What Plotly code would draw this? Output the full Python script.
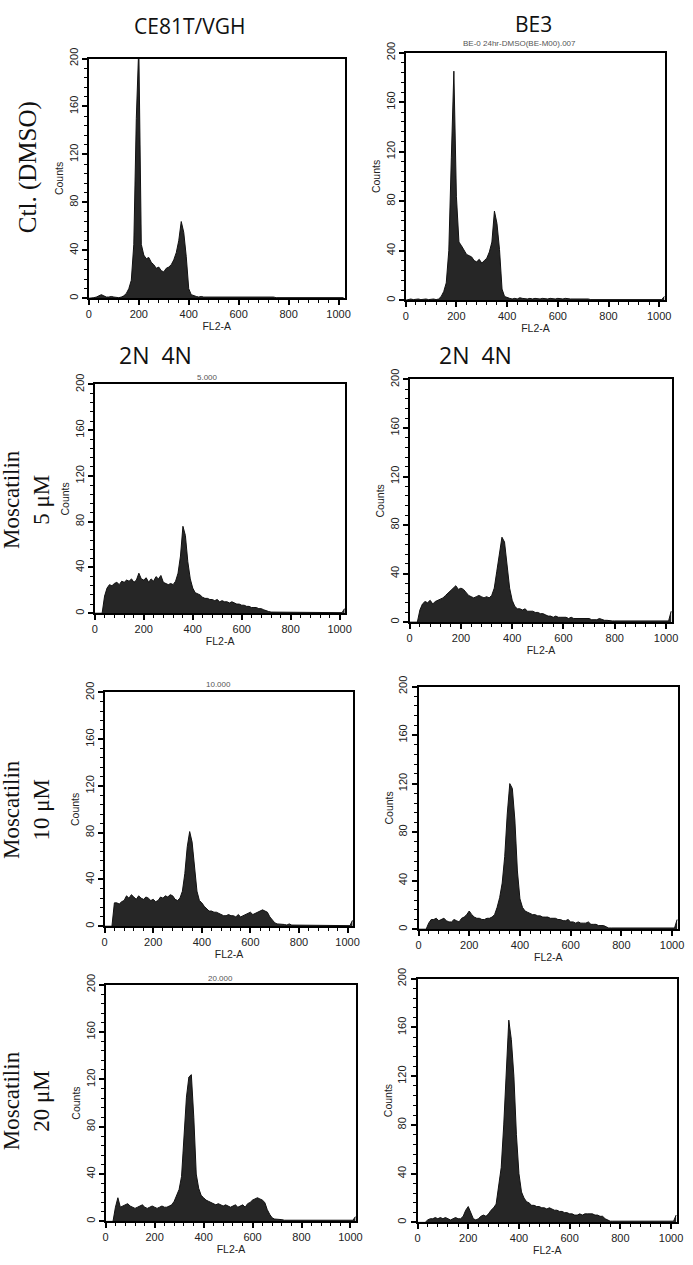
import plotly.graph_objects as go

# FL2-A channel grid (every 10 channels)
channels = [0, 10, 20, 30, 40, 50, 60, 70, 80, 90,
            100, 110, 120, 130, 140, 150, 160, 170, 180, 190,
            200, 210, 220, 230, 240, 250, 260, 270, 280, 290,
            300, 310, 320, 330, 340, 350, 360, 370, 380, 390,
            400, 410, 420, 430, 440, 450, 460, 470, 480, 490,
            500, 510, 520, 530, 540, 550, 560, 570, 580, 590,
            600, 610, 620, 630, 640, 650, 660, 670, 680, 690,
            700, 710, 720, 730, 740, 750, 760, 770, 780, 790,
            800, 810, 820, 830, 840, 850, 860, 870, 880, 890,
            900, 910, 920, 930, 940, 950, 960, 970, 980, 990,
            1000, 1010, 1020]

ce_ctl = [0, 0, 0.5, 1, 2, 3, 2, 1, 1, 1.5,
          1, 0.5, 0.5, 1, 2, 4, 8, 15, 45, 150,
          210, 45, 36, 33, 34, 30, 28, 25, 26, 23,
          22, 25, 26, 28, 32, 38, 48, 64, 55, 35,
          8, 3, 2, 1.5, 1, 1.5, 1, 1, 1.5, 1,
          1, 1.5, 1, 1, 1.5, 1, 1, 1, 1.5, 1,
          1, 1, 1.5, 1, 1, 1.5, 1, 1, 1, 1.5,
          1, 1, 1.5, 1, 1, 0.5, 0.5, 1, 0.5, 0.5,
          0.5, 0.5, 0.5, 0.5, 1, 0.5, 0.5, 0.5, 0.5, 0.5,
          0.5, 0.5, 0.5, 0.5, 0.5, 0.5, 0.5, 0.5, 0.5, 0.5,
          0.5, 0.5, 0.5]

be_ctl = [0, 0.5, 1, 0.5, 1, 1, 0.5, 1, 1, 0.5,
          1, 1, 0.5, 1, 3, 7, 14, 40, 115, 185,
          84, 47, 44, 40, 37, 36, 35, 32, 31, 33,
          30, 32, 34, 39, 47, 72, 62, 41, 9, 3,
          2, 1.5, 1, 1.5, 1, 2, 1.5, 1, 1, 1.5,
          1, 1.5, 1, 1, 1.5, 1, 1, 1.5, 1, 1,
          1.5, 1, 1, 1.5, 1, 1, 1, 1, 1.5, 1,
          1, 1, 1, 0.5, 0.5, 0.5, 0.5, 0.5, 0.5, 0.5,
          0.5, 0.5, 0.5, 0.5, 0.5, 0.5, 0.5, 0.5, 0.5, 0.5,
          0.5, 0.5, 0.5, 0.5, 0.5, 0.5, 0.5, 0.5, 0.5, 0.5,
          0.5, 0.5, 3]

ce_5 = [0, 0, 0, 0, 15, 22, 25, 24, 26, 27,
        25, 28, 27, 29, 28, 30, 27, 29, 35, 30,
        29, 31, 27, 30, 28, 32, 30, 33, 27, 26,
        25, 26, 25, 28, 35, 50, 76, 68, 45, 30,
        22, 18, 17, 16, 14, 13, 13, 12, 12, 11,
        12, 10, 11, 10, 10, 9, 10, 9, 8, 8,
        7, 7, 6, 6, 5, 5, 5, 4, 4, 3,
        2, 1.5, 1, 1, 0.5, 0.5, 0.5, 0.5, 0.5, 0.5,
        0.5, 0.5, 0.5, 0.5, 0.5, 0.5, 0.5, 0.5, 0.5, 0.5,
        0.5, 0.5, 0.5, 0.5, 0.5, 0.5, 0.5, 0.5, 0.5, 0.5,
        0.5, 0.5, 4]

be_5 = [0, 0, 0, 0, 10, 15, 17, 16, 18, 15,
        17, 18, 19, 20, 22, 24, 26, 28, 30, 27,
        28, 27, 24, 22, 21, 20, 21, 22, 21, 20,
        21, 20, 22, 28, 42, 58, 70, 66, 45, 28,
        18, 13, 11, 11, 10, 11, 9, 9, 9, 8,
        8, 7, 7, 6, 5, 5, 4, 5, 4, 4,
        4, 4, 3, 4, 3, 3, 3, 3, 3, 3,
        3, 2, 2, 2, 3, 2, 1.5, 1.5, 1, 1,
        1, 1, 1, 1, 1, 1, 1, 1, 1, 1,
        1, 1, 1, 1, 1, 1, 1, 1, 1, 1,
        1, 1, 9]

ce_10 = [0, 0, 0, 0, 20, 20, 19, 21, 22, 26,
         24, 27, 25, 23, 26, 24, 23, 25, 24, 22,
         23, 21, 22, 25, 24, 26, 25, 27, 26, 23,
         22, 24, 30, 45, 68, 81, 72, 50, 30, 22,
         20, 17, 15, 13, 13, 12, 12, 11, 10, 9,
         9, 10, 9, 9, 8, 10, 8, 9, 10, 11,
         12, 10, 11, 12, 13, 14, 13, 12, 8, 5,
         3, 2, 2, 1.5, 1.5, 1, 2, 1, 1, 0.5,
         0.5, 0.5, 0.5, 0.5, 0.5, 0.5, 0.5, 0.5, 0.5, 0.5,
         0.5, 0.5, 0.5, 0.5, 0.5, 0.5, 0.5, 0.5, 0.5, 0.5,
         0.5, 0.5, 5]

be_10 = [0, 0, 0, 0, 5, 8, 8, 9, 7, 8,
         9, 7, 6, 6, 8, 7, 6, 9, 10, 12,
         15, 12, 10, 9, 9, 8, 8, 9, 9, 10,
         12, 18, 26, 38, 60, 95, 120, 116, 90, 48,
         25, 18, 15, 14, 13, 12, 12, 11, 11, 10,
         10, 10, 9, 9, 9, 8, 8, 7, 7, 8,
         6, 6, 5, 6, 5, 5, 5, 6, 4, 4,
         4, 3, 3, 3, 2, 1, 1, 1, 1, 1,
         1, 1, 1, 1, 1, 1, 1, 1, 1, 1,
         1, 1, 1, 1, 1, 1, 1, 1, 1, 1,
         1, 1, 8]

ce_20 = [0, 0, 0, 0, 12, 20, 12, 13, 14, 15,
         13, 12, 11, 12, 13, 14, 12, 11, 12, 13,
         12, 11, 12, 13, 12, 12, 13, 14, 17, 22,
         27, 38, 69, 105, 122, 124, 88, 40, 28, 22,
         20, 18, 17, 16, 15, 14, 15, 14, 13, 14,
         13, 12, 13, 14, 12, 13, 14, 12, 15, 16,
         18, 19, 20, 19, 18, 16, 10, 6, 3, 2,
         2, 2, 1.5, 1, 1, 1, 1, 1, 1, 1,
         1, 1, 1, 1, 1, 1, 1, 1, 1, 1,
         1, 1, 1, 1, 1, 1, 1, 1, 1, 1,
         1, 1, 4]

be_20 = [0, 0, 0, 0, 2, 3, 3, 4, 3, 4,
         3, 4, 3, 2, 3, 4, 3, 3, 5, 10,
         13, 8, 3, 2, 3, 5, 6, 5, 7, 10,
         12, 15, 30, 45, 80, 120, 166, 150, 120, 72,
         40, 25, 20, 17, 16, 14, 14, 13, 13, 12,
         12, 11, 12, 11, 10, 10, 9, 9, 8, 8,
         7, 7, 6, 6, 7, 6, 7, 7, 7, 7,
         6, 6, 5, 5, 3, 2, 1, 1, 1, 1,
         1, 1, 1, 1, 1, 1, 1, 1, 1, 1,
         1, 1, 1, 1, 1, 1, 1, 1, 1, 1,
         1, 1, 6]

panels = [ce_ctl, be_ctl, ce_5, be_5, ce_10, be_10, ce_20, be_20]
panel_titles = ["", "BE-0 24hr-DMSO(BE-M00).007", "5.000", "", "10.000", "", "20.000", ""]
col_labels = ["CE81T/VGH", "BE3"]
row_labels = ["Ctl. (DMSO)", "Moscatilin<br>5 μM", "Moscatilin<br>10 μM", "Moscatilin<br>20 μM"]
x_ticks = [0, 200, 400, 600, 800, 1000]
y_ticks = [0, 40, 80, 120, 160, 200]

W, H = 693, 1265
# plot-area boxes in pixels: left, right, top, bottom
boxes = [(87, 346, 48, 290), (408, 671, 42, 292),
         (93, 347, 377, 608), (412, 678, 372, 617),
         (103, 355, 688, 924), (421, 684, 682, 927),
         (104, 358, 983, 1222), (420, 683, 977, 1223)]

fig = go.Figure()
layout = dict(width=W, height=H, margin=dict(l=0, r=0, t=0, b=0),
              paper_bgcolor="white", plot_bgcolor="white", showlegend=False)

tick_font = dict(family="Liberation Sans, Arial", size=11, color="#222")
title_font = dict(family="Liberation Sans, Arial", size=10.5, color="#222")
for i, (vals, (l, r, t, b)) in enumerate(zip(panels, boxes)):
    n = i + 1
    xa = "x" if n == 1 else f"x{n}"
    ya = "y" if n == 1 else f"y{n}"
    fig.add_trace(go.Scatter(x=channels, y=vals, xaxis=xa, yaxis=ya, mode="lines",
                             fill="tozeroy", fillcolor="#262626",
                             line=dict(color="#111", width=1)))
    layout[f"xaxis{n if n > 1 else ''}"] = dict(
        domain=[l / W, r / W], anchor=ya, range=[0, 1024],
        showgrid=False, zeroline=False, showline=True, mirror=True,
        linecolor="black", linewidth=1.5,
        tickvals=x_ticks, ticks="outside", ticklen=5, tickwidth=1.5, tickcolor="black",
        minor=dict(dtick=40, tick0=0, ticks="outside", ticklen=3, tickwidth=1.2, tickcolor="black"),
        tickfont=tick_font,
        title=dict(text="FL2-A", font=title_font, standoff=0))
    layout[f"yaxis{n if n > 1 else ''}"] = dict(
        domain=[1 - b / H, 1 - t / H], anchor=xa, range=[0, 200],
        showgrid=False, zeroline=False, showline=True, mirror=True,
        linecolor="black", linewidth=1.5,
        tickvals=y_ticks, ticks="outside", ticklen=5, tickwidth=1.5, tickcolor="black",
        minor=dict(dtick=8, tick0=0, ticks="outside", ticklen=3, tickwidth=1.2, tickcolor="black"),
        tickangle=-90, tickfont=tick_font,
        title=dict(text="Counts", font=title_font, standoff=2))

fig.update_layout(**layout)

ann = []
sans = "Open Sans, Liberation Sans"
serif = "Liberation Serif, Times New Roman"
ann.append(dict(text=col_labels[0], x=189 / W, y=1 - 15 / H, font=dict(family=sans, size=21, color="#111")))
ann.append(dict(text=col_labels[1], x=537 / W, y=1 - 13 / H, font=dict(family=sans, size=21, color="#111")))
ann.append(dict(text="2N  4N", x=155 / W, y=1 - 347 / H, font=dict(family=sans, size=23, color="#111")))
ann.append(dict(text="2N  4N", x=479 / W, y=1 - 347 / H, font=dict(family=sans, size=23, color="#111")))
row_pos = [(25, 158, 25), (24, 493, 23), (24, 806, 23), (24, 1100, 23)]
for txt, (px, py, fs) in zip(row_labels, row_pos):
    ann.append(dict(text=txt, x=px / W, y=1 - py / H, textangle=-90,
                    font=dict(family=serif, size=fs, color="#111")))
title_pos = [None, (523, 33), (207, 370), None, (218, 680), None, (220, 977), None]
for txt, pos in zip(panel_titles, title_pos):
    if txt and pos:
        ann.append(dict(text=txt, x=pos[0] / W, y=1 - pos[1] / H,
                        font=dict(family="Liberation Sans", size=8, color="#555")))
for a in ann:
    a.update(xref="paper", yref="paper", showarrow=False, xanchor="center", yanchor="middle")
fig.update_layout(annotations=ann)

fig.write_html("out.html", config={"displayModeBar": False},
               post_script="document.body.style.margin='0';")
